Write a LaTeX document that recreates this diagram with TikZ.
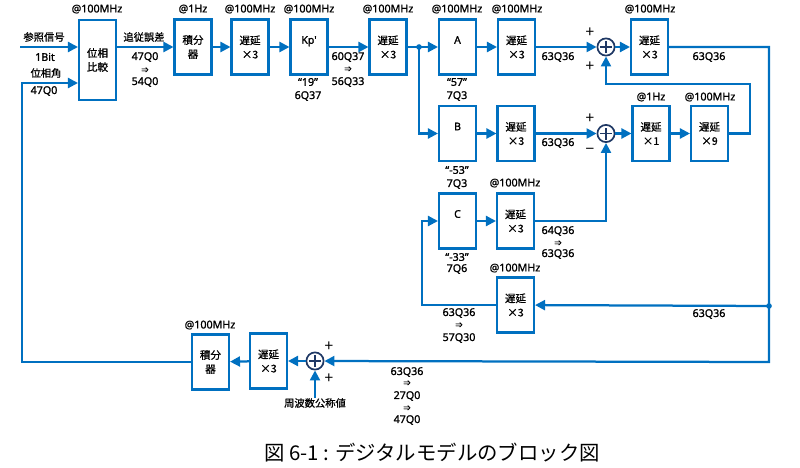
\documentclass[tikz,border=0pt]{standalone}
\usepackage{fontspec}
\setmainfont{Noto Sans}[FakeBold=1.2]
\newfontfamily\jp{Noto Sans CJK JP}[FakeBold=0.8]
\newfontfamily\capfont{Noto Sans CJK JP}
\usetikzlibrary{arrows.meta}
\definecolor{lineblue}{RGB}{0,112,192}
\definecolor{sumnavy}{RGB}{31,56,100}
\tikzset{
  blk/.style={draw=lineblue, line width=1.6pt, minimum width=0.92cm, minimum height=1.37cm,
    inner sep=0pt, align=center, font=\jp\fontsize{7.5}{10}\selectfont},
  tallblk/.style={blk, minimum height=2cm},
  wire/.style={draw=lineblue, line width=1.6pt},
  sig/.style={wire, -{Triangle[length=2.5mm,width=2.5mm]}},
  lbl/.style={font=\fontsize{7.6}{8}\selectfont, inner sep=0pt, align=center},
  jlbl/.style={lbl, font=\jp\fontsize{7.3}{8}\selectfont},
  imp/.style={lbl, font=\jp\fontsize{5}{6}\selectfont},
  sgn/.style={lbl, font=\capfont\fontsize{11}{12}\selectfont},
  sumc/.style={circle, draw=sumnavy, line width=1.2pt, minimum size=0.43cm, inner sep=0pt,
    path picture={\draw[sumnavy, line width=0.9pt]
      ([xshift=-1.5mm]path picture bounding box.center) -- ([xshift=1.5mm]path picture bounding box.center)
      ([yshift=-1.5mm]path picture bounding box.center) -- ([yshift=1.5mm]path picture bounding box.center);}},
}
\begin{document}
\begin{tikzpicture}[x=0.025cm, y=-0.025cm]
\useasboundingbox (0,0) rectangle (800,467);

% blocks
\node[tallblk] (cmp) at (97.5,60) {位相\\比較};
\node[blk] (int1) at (193,47) {積分\\器};
\node[blk] (d1) at (250,47) {遅延\\×3};
\node[blk] (kp) at (309,47) {\fontspec{Noto Sans}[FakeBold=1.2]Kp'\\\mbox{}};
\node[blk] (d2) at (388,47) {遅延\\×3};
\node[blk] (A) at (457.5,47) {\fontspec{Noto Sans}[FakeBold=1.2]A\\\mbox{}};
\node[blk] (dA) at (516.5,47) {遅延\\×3};
\node[sumc] (s1) at (606,47) {};
\node[blk] (dT) at (649.5,47) {遅延\\×3};
\node[blk] (B) at (457.5,133.5) {\fontspec{Noto Sans}[FakeBold=1.2]B\\\mbox{}};
\node[blk] (dB) at (516,133.5) {遅延\\×3};
\node[sumc] (s2) at (606,133.5) {};
\node[blk] (d1x) at (651,133.5) {遅延\\×1};
\node[blk] (d9) at (709.5,133.5) {遅延\\×9};
\node[blk] (C) at (457.5,221) {\fontspec{Noto Sans}[FakeBold=1.2]C\\\mbox{}};
\node[blk] (dC) at (515.5,221) {遅延\\×3};
\node[blk] (dF) at (515.5,305) {遅延\\×3};
\node[blk] (intB) at (210.5,362) {積分\\器};
\node[blk] (dBot) at (268.5,361) {遅延\\×3};
\node[sumc] (s3) at (315,361) {};

% clock labels
\node[lbl] (clkCmp) at (97,9) {@100MHz};
\node[lbl] (clkInt) at (193,9) {@1Hz};
\node[lbl] (clkD1) at (250,9) {@100MHz};
\node[lbl] (clkKp) at (309,9) {@100MHz};
\node[lbl] (clkD2) at (388,9) {@100MHz};
\node[lbl] (clkA) at (457,9) {@100MHz};
\node[lbl] (clkDA) at (517,9) {@100MHz};
\node[lbl] (clkDT) at (650,9) {@100MHz};
\node[lbl] (clkD1x) at (651,97) {@1Hz};
\node[lbl] (clkD9) at (710,97) {@100MHz};
\node[lbl] (clkDC) at (515,183) {@100MHz};
\node[lbl] (clkDF) at (515,268) {@100MHz};
\node[lbl] (clkInt2) at (210,325) {@100MHz};

% signal labels
\node[jlbl] (tRef) at (44,37) {参照信号};
\node[lbl] (tBit) at (45,57) {1Bit};
\node[jlbl] (tPh) at (46,73) {位相角};
\node[lbl] (tPhQ) at (44,91) {47Q0};
\node[jlbl] (tErr) at (144,37) {追従誤差};
\node[lbl] (tErrA) at (145,57) {47Q0};
\node[imp] (tErrB) at (145,70) {⇒};
\node[lbl] (tErrC) at (145,82) {54Q0};
\node[lbl] (tKpA) at (308,82) {“19”};
\node[lbl] (tKpB) at (308,96) {6Q37};
\node[lbl] (tKpoA) at (348,57) {60Q37};
\node[imp] (tKpoB) at (348,69) {⇒};
\node[lbl] (tKpoC) at (348,82) {56Q33};
\node[lbl] (tAA) at (457,82) {“57”};
\node[lbl] (tAB) at (457,96) {7Q3};
\node[lbl] (tDA) at (558,57) {63Q36};
\node[lbl] (tDT) at (709,57) {63Q36};
\node[lbl] (tDB) at (558,143) {63Q36};
\node[lbl] (tBA) at (457,170) {“-53"};
\node[lbl] (tBB) at (457,184) {7Q3};
\node[lbl] (tDCA) at (558,231) {64Q36};
\node[imp] (tDCB) at (558,243) {⇒};
\node[lbl] (tDCC) at (558,254) {63Q36};
\node[lbl] (tCA) at (457,257) {“-33"};
\node[lbl] (tCB) at (457,269) {7Q6};
\node[lbl] (tDFA) at (459,313) {63Q36};
\node[imp] (tDFB) at (459,325) {⇒};
\node[lbl] (tDFC) at (459,338) {57Q30};
\node[lbl] (tRet) at (709,314) {63Q36};
\node[lbl] (tBotA) at (407,372) {63Q36};
\node[imp] (tBotB) at (407,383) {⇒};
\node[lbl] (tBotC) at (407,396) {27Q0};
\node[imp] (tBotD) at (407,408) {⇒};
\node[lbl] (tBotE) at (407,420) {47Q0};
\node[jlbl] (fnom) at (315,403) {周波数公称値};

% signs
\node[sgn] (p1a) at (590,33) {+};
\node[sgn] (p1b) at (590,67) {+};
\node[sgn] (p2a) at (590,119) {+};
\node[sgn] (p2b) at (590,151) {−};
\node[sgn] (p3a) at (329,347) {+};
\node[sgn] (p3b) at (329,379) {+};

% caption
\node[font=\capfont\fontsize{14.5}{16}\selectfont, inner sep=0pt] (cap) at (432,453) {図 6-1 : デジタルモデルのブロック図};

% junctions
\coordinate (inA) at (20,47);
\coordinate (fbL) at (22,83);
\coordinate (jA) at (419,47);
\coordinate (jR) at (769,306);
\coordinate (rB) at (769,362);
\coordinate (lC) at (422,221);
\coordinate (fbR) at (750,84);
\fill[lineblue] (jA) circle (2pt);
\fill[lineblue] (jR) circle (2pt);

% forward path
\draw[sig] (inA) -- (inA -| cmp.west);
\draw[sig] (cmp.east |- int1) -- (int1);
\draw[sig] (int1) -- (d1);
\draw[sig] (d1) -- (kp);
\draw[sig] (kp) -- (d2);
\draw[wire] (d2) -- (jA);
\draw[sig] (jA) -- (A);
\draw[sig] (jA) |- (B);
\draw[sig] (A) -- (dA);
\draw[sig] (dA) -- (s1);
\draw[sig] (s1) -- (dT);
\draw[sig] (B) -- (dB);
\draw[sig] (dB) -- (s2);
\draw[sig] (s2) -- (d1x);
\draw[sig] (d1x) -- (d9);
\draw[sig] (d9.east) -| (fbR) -| (s1);
\draw[sig] (C) -- (dC);
\draw[sig] (dC.east) -| (s2);

% return path
\draw[sig] (dT.east) -| (rB) -- (s3);
\draw[sig] (jR) -- (dF);
\draw[sig] (dF.west) -| (lC) -- (C);
\draw[sig] (fnom) -- (s3);
\draw[sig] (s3) -- (dBot);
\draw[sig] (dBot) -- (intB);
\draw[sig] (intB.west) -| (fbL) -- (fbL -| cmp.west);
\end{tikzpicture}
\end{document}
